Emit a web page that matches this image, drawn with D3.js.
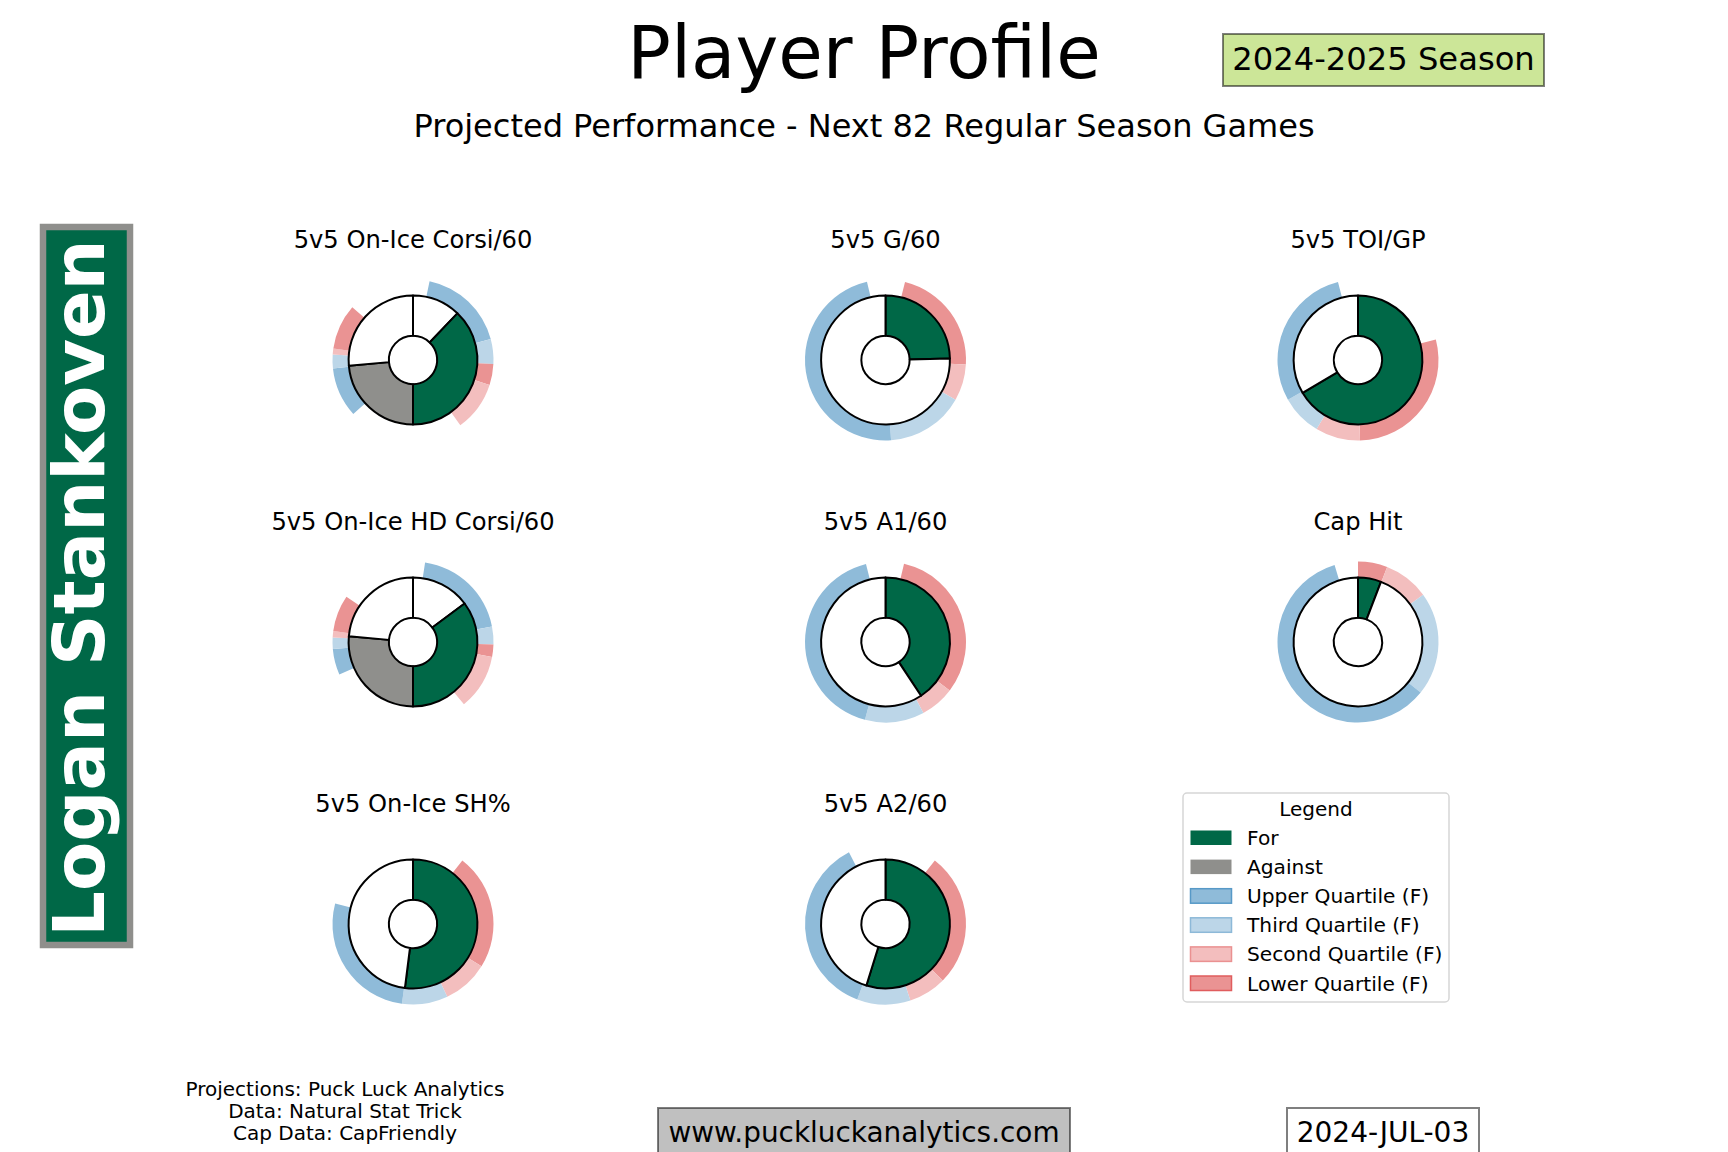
<!DOCTYPE html>
<html>
<head>
<meta charset="utf-8">
<script src="https://cdn.jsdelivr.net/npm/d3@7"></script>
<style>
    body {margin: 0; background: #fff;}
    svg {display: block; font-family: "DejaVu Sans", sans-serif;}
</style>
</head>
<body>
<svg id="content"></svg>
<script>
// config
let widthSvg = 1728;
let heightSvg = 1152;

// data
const playerName = "Logan Stankoven";
const chartTitles = ["5v5 On-Ice Corsi/60", "5v5 G/60", "5v5 TOI/GP",
    "5v5 On-Ice HD Corsi/60", "5v5 A1/60", "Cap Hit",
    "5v5 On-Ice SH%", "5v5 A2/60"];
const chartCol = [0, 1, 2, 0, 1, 2, 0, 1];
const chartRow = [0, 0, 0, 1, 1, 1, 2, 2];

// inner ring, % of circle clockwise from 12 o'clock
const mainKinds = [
    ["blank", "for", "against", "blank"],
    ["for", "blank"],
    ["for", "blank"],
    ["blank", "for", "against", "blank"],
    ["for", "blank"],
    ["for", "blank"],
    ["for", "blank"],
    ["for", "blank"]
];
const mainValues = [
    [12.1, 37.9, 23.6, 26.4],
    [24.6, 75.4],
    [66.5, 33.5],
    [14.8, 35.2, 26.4, 23.6],
    [40.7, 59.3],
    [5.8, 94.2],
    [52.0, 48.0],
    [54.8, 45.2]
];

// outer quartile ring, same units
const ringKinds = [
    ["gap", "upper", "third", "lower", "second", "gap", "upper", "third", "second", "lower", "gap"],
    ["gap", "lower", "second", "third", "upper", "gap"],
    ["gap", "lower", "second", "third", "upper", "gap"],
    ["gap", "upper", "third", "lower", "second", "gap", "upper", "third", "second", "lower", "gap"],
    ["gap", "lower", "second", "third", "upper", "gap"],
    ["lower", "second", "third", "upper", "gap"],
    ["gap", "lower", "second", "third", "upper", "gap"],
    ["gap", "lower", "second", "third", "upper", "gap"]
];
const ringValues = [
    [3.3, 17.5, 5.0, 4.2, 10.0, 23.3, 10.0, 2.8, 1.2, 9.1, 13.6],
    [3.9, 22.0, 7.3, 15.7, 47.4, 3.7],
    [20.9, 28.7, 9.0, 8.2, 29.2, 4.0],
    [2.4, 19.5, 3.6, 2.5, 11.1, 29.3, 5.2, 2.3, 1.3, 7.3, 15.5],
    [3.7, 31.6, 6.9, 11.9, 42.0, 3.9],
    [5.9, 9.1, 20.8, 59.5, 4.7],
    [10.5, 23.3, 9.2, 9.2, 26.9, 20.9],
    [10.5, 26.9, 7.6, 10.7, 36.8, 7.5]
];

const legendKinds = ["for", "against", "upper", "third", "second", "lower"];
const legendLabels = ["For", "Against", "Upper Quartile (F)", "Third Quartile (F)",
    "Second Quartile (F)", "Lower Quartile (F)"];
const creditLines = ["Projections: Puck Luck Analytics", "Data: Natural Stat Trick", "Cap Data: CapFriendly"];

const fillColor = {
    for: "#006847", against: "#8f8f8c", blank: "#ffffff",
    upper: "#8fbbd9", third: "#bcd6e8", second: "#f3bebe", lower: "#ea9393", gap: "none"
};
const edgeColor = {
    for: "none", against: "none",
    upper: "#5799c7", third: "#8db9d8", second: "#ea9191", lower: "#e05d5e"
};

const mainsvg = d3.select("#content")
    .attr("width", widthSvg)
    .attr("height", heightSvg);

// layout scales
let xCol = d3.scalePoint().domain([0, 1, 2]).range([413, 1358]);
let yRow = d3.scalePoint().domain([0, 1, 2]).range([360, 924]);
let rScale = d3.scaleLinear().domain([0, 1.25]).range([0, 80.5]);

let pie = d3.pie().sort(null).value(d => d.v);
let arcMain = d3.arc().innerRadius(rScale(0.375)).outerRadius(rScale(1));
let arcRing = d3.arc().innerRadius(rScale(1)).outerRadius(rScale(1.25));

init();

function init() {
    drawHeader();
    drawName();
    chartTitles.forEach((t, i) => drawDonut(i));
    drawLegend();
    drawFooter();
}

function drawHeader() {
    mainsvg.append("text")
        .attr("x", widthSvg / 2).attr("y", 78)
        .attr("text-anchor", "middle")
        .style("font-size", "72.4px")
        .text("Player Profile");
    mainsvg.append("text")
        .attr("x", widthSvg / 2).attr("y", 137)
        .attr("text-anchor", "middle")
        .style("font-size", "32px")
        .text("Projected Performance - Next 82 Regular Season Games");

    mainsvg.append("rect")
        .attr("x", 1223).attr("y", 34).attr("width", 321).attr("height", 52)
        .attr("fill", "#cce698")
        .attr("stroke", "rgba(0,0,0,0.5)").attr("stroke-width", 2);
    mainsvg.append("text")
        .attr("x", 1383.5).attr("y", 69.5)
        .attr("text-anchor", "middle")
        .style("font-size", "32.2px")
        .text("2024-2025 Season");
}

function drawName() {
    mainsvg.append("rect")
        .attr("x", 43).attr("y", 227).attr("width", 87).attr("height", 718)
        .attr("fill", fillColor.for)
        .attr("stroke", fillColor.against).attr("stroke-width", 6.5);
    mainsvg.append("text")
        .attr("transform", "translate(104,588) rotate(-90)")
        .attr("text-anchor", "middle")
        .attr("fill", "#fff")
        .style("font-size", "71.7px")
        .style("font-weight", "bold")
        .text(playerName);
}

function drawDonut(i) {
    let g = mainsvg.append("g")
        .attr("class", "gCategory")
        .attr("transform", `translate(${xCol(chartCol[i])},${yRow(chartRow[i])})`);

    g.append("text")
        .attr("y", -112)
        .attr("text-anchor", "middle")
        .style("font-size", "24.2px")
        .text(chartTitles[i]);

    let ring = ringValues[i].map((v, j) => ({v: v, kind: ringKinds[i][j]}));
    g.selectAll(".ring")
        .data(pie(ring))
        .join("path")
        .attr("class", "ring")
        .attr("d", arcRing)
        .attr("fill", d => fillColor[d.data.kind]);

    let main = mainValues[i].map((v, j) => ({v: v, kind: mainKinds[i][j]}));
    g.selectAll(".wedge")
        .data(pie(main))
        .join("path")
        .attr("class", "wedge")
        .attr("d", arcMain)
        .attr("fill", d => fillColor[d.data.kind])
        .attr("stroke", "#000")
        .attr("stroke-width", 2)
        .attr("stroke-linejoin", "round");
}

function drawLegend() {
    let lg = mainsvg.append("g").attr("transform", "translate(1183,793)");
    lg.append("rect")
        .attr("width", 266).attr("height", 209).attr("rx", 4)
        .attr("fill", "#fff")
        .attr("stroke", "#d6d6d6").attr("stroke-width", 1.5);
    lg.append("text")
        .attr("x", 133).attr("y", 23)
        .attr("text-anchor", "middle")
        .style("font-size", "20px")
        .text("Legend");

    let rows = lg.selectAll(".lrow")
        .data(legendKinds)
        .join("g")
        .attr("class", "lrow")
        .attr("transform", (d, k) => `translate(0,${52 + k * 29.1})`);
    rows.append("rect")
        .attr("x", 7.5).attr("y", -14.5)
        .attr("width", 41).attr("height", 14.5)
        .attr("fill", d => fillColor[d])
        .attr("stroke", d => edgeColor[d])
        .attr("stroke-width", 1.5);
    rows.append("text")
        .attr("x", 64).attr("y", 0)
        .style("font-size", "20.2px")
        .text((d, k) => legendLabels[k]);
}

function drawFooter() {
    mainsvg.append("g")
        .selectAll("text")
        .data(creditLines)
        .join("text")
        .attr("x", 345)
        .attr("y", (d, k) => 1096 + k * 22)
        .attr("text-anchor", "middle")
        .style("font-size", "20px")
        .text(d => d);

    mainsvg.append("rect")
        .attr("x", 658).attr("y", 1108).attr("width", 412).attr("height", 70)
        .attr("fill", "#c0c0c0")
        .attr("stroke", "rgba(0,0,0,0.5)").attr("stroke-width", 2);
    mainsvg.append("text")
        .attr("x", 864).attr("y", 1142)
        .attr("text-anchor", "middle")
        .style("font-size", "27.9px")
        .text("www.puckluckanalytics.com");

    mainsvg.append("rect")
        .attr("x", 1287).attr("y", 1108).attr("width", 192).attr("height", 70)
        .attr("fill", "#fff")
        .attr("stroke", "rgba(0,0,0,0.5)").attr("stroke-width", 2);
    mainsvg.append("text")
        .attr("x", 1383).attr("y", 1142)
        .attr("text-anchor", "middle")
        .style("font-size", "28px")
        .text("2024-JUL-03");
}
</script>
</body>
</html>
